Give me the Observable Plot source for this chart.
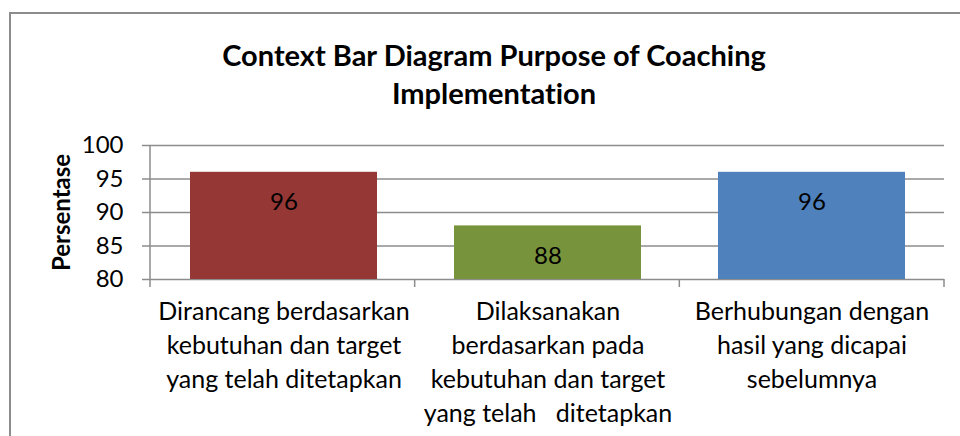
<!DOCTYPE html>
<html>
<head>
<meta charset="utf-8">
<script src="https://cdn.jsdelivr.net/npm/d3@7"></script>
<script src="https://cdn.jsdelivr.net/npm/@observablehq/plot@0.6"></script>
<style>
  html, body { margin: 0; padding: 0; background: #fff; }
  #wrap { position: relative; width: 960px; height: 436px; overflow: hidden; font-family: Lato, "Open Sans", sans-serif; font-variant-ligatures: none; }
  #border { position: absolute; left: 9px; top: 12px; width: 960px; height: 440px; border-left: 2px solid #8c8c8c; border-top: 2px solid #8c8c8c; box-sizing: border-box; }
  #title { position: absolute; left: 144px; width: 700px; top: 36px; text-align: center; font-weight: bold; font-size: 29px; line-height: 38px; color: #000; font-variant-ligatures: none; }
  #chart { position: absolute; left: 0; top: 0; }
  #chart svg text { font-variant-ligatures: none; }
</style>
</head>
<body>
<div id="wrap">
  <div id="border"></div>
  <div id="chart"></div>
  <div id="title">Context Bar Diagram Purpose of Coaching<br>Implementation</div>
</div>
<script>
const categories = [
  "Dirancang berdasarkan kebutuhan dan target yang telah ditetapkan",
  "Dilaksanakan berdasarkan pada kebutuhan dan target yang telah ditetapkan",
  "Berhubungan dengan hasil yang dicapai sebelumnya"
];
const tickLabels = [
  "Dirancang berdasarkan\nkebutuhan dan target\nyang telah ditetapkan",
  "Dilaksanakan\nberdasarkan pada\nkebutuhan dan target\nyang telah\u00a0\u00a0 ditetapkan",
  "Berhubungan dengan\nhasil yang dicapai\nsebelumnya"
];
const values = [96, 88, 96];
const yTicks = [80, 85, 90, 95, 100];
const yLabel = "Persentase";

const data = categories.map((c, i) => ({category: c, value: values[i], tick: tickLabels[i]}));
const gridColor = "#8c8c8c";

function separators(index, scales, values, dims) {
  const g = d3.create("svg:g");
  const x0 = dims.marginLeft, x1 = dims.width - dims.marginRight;
  const yTop = dims.marginTop, yBot = dims.height - dims.marginBottom;
  const n = categories.length;
  const step = (x1 - x0) / n;
  for (let i = 0; i <= n; i++) {
    const x = x0 + i * step;
    g.append("line").attr("x1", x).attr("x2", x).attr("y1", i === 0 ? yTop : yBot).attr("y2", yBot + 8)
      .attr("stroke", gridColor).attr("stroke-width", 1.5);
  }
  return g.node();
}

const chart = Plot.plot({
  width: 960,
  height: 436,
  marginTop: 145,
  marginBottom: 157,
  marginLeft: 150,
  marginRight: 16,
  style: {fontFamily: "Lato, 'Open Sans', sans-serif", background: "transparent", color: "#000"},
  x: {domain: categories, paddingInner: 0.293, paddingOuter: 0.1465, axis: null},
  y: {domain: [80, 100], axis: null},
  color: {domain: categories, range: ["#953735", "#77933C", "#4F81BD"]},
  marks: [
    Plot.ruleY(yTicks, {stroke: gridColor, strokeWidth: 1.5, strokeOpacity: 1}),
    Plot.axisY({ticks: yTicks, tickSize: 8, tickPadding: 19, fontSize: 24, stroke: gridColor, strokeWidth: 1.5, strokeOpacity: 1, label: null}),
    separators,
    Plot.barY(data, {x: "category", y1: 80, y2: "value", fill: "category"}),
    Plot.text(data, {x: "category", y: "value", text: d => String(d.value), dy: 30, fontSize: 24, fill: "#000"}),
    Plot.text(data, {x: "category", text: "tick", frameAnchor: "bottom", lineAnchor: "top", dy: 17, fontSize: 25, lineHeight: 1.35, fill: "#000"}),
    Plot.text([yLabel], {text: d => d, frameAnchor: "left", textAnchor: "middle", rotate: -90, dx: -88, fontSize: 24, fontWeight: "bold", fill: "#000"})
  ]
});
document.getElementById("chart").appendChild(chart);
</script>
</body>
</html>
